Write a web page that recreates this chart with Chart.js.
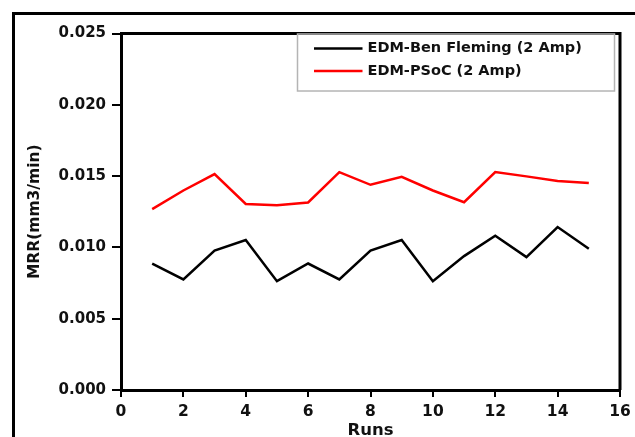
<!DOCTYPE html>
<html>
<head>
<meta charset="utf-8">
<style>
  html, body { margin: 0; padding: 0; background: #fff; }
  #wrap { position: relative; width: 635px; height: 437px; }
</style>
<script src="https://cdn.jsdelivr.net/npm/chart.js@4.4.1/dist/chart.umd.min.js"></script>
</head>
<body>
<div id="wrap"><canvas id="c" width="635" height="437"></canvas></div>
<script>
// ---- data ----
const runs = [1, 2, 3, 4, 5, 6, 7, 8, 9, 10, 11, 12, 13, 14, 15];
const mrrBenFleming = [0.00887, 0.00775, 0.00977, 0.01052, 0.00763, 0.00887, 0.00775, 0.00977, 0.01052, 0.00763, 0.00939, 0.01082, 0.00932, 0.01143, 0.00991];
const mrrPSoC = [0.01268, 0.01399, 0.01514, 0.01305, 0.01296, 0.01315, 0.01528, 0.01439, 0.01495, 0.01399, 0.01317, 0.01528, 0.01498, 0.01465, 0.01451];
const seriesLabels = ['EDM-Ben Fleming (2 Amp)', 'EDM-PSoC (2 Amp)'];
const xTicks = [0, 2, 4, 6, 8, 10, 12, 14, 16];
const yTicks = [0.000, 0.005, 0.010, 0.015, 0.020, 0.025];
const xTitle = 'Runs';
const yTitle = 'MRR(mm3/min)';

const FONT = "'DejaVu Sans', 'Liberation Sans', Arial, sans-serif";

const frameAndLegend = {
  id: 'frameAndLegend',
  beforeDraw(chart) {
    const ctx = chart.ctx;
    ctx.save();
    ctx.fillStyle = '#fff';
    ctx.fillRect(0, 0, chart.width, chart.height);
    // outer frame (top and left visible)
    ctx.strokeStyle = '#000';
    ctx.lineWidth = 3;
    ctx.beginPath();
    ctx.moveTo(13.5, chart.height + 5);
    ctx.lineTo(13.5, 13.5);
    ctx.lineTo(chart.width + 5, 13.5);
    ctx.stroke();
    ctx.restore();
  },
  afterDatasetsDraw(chart) {
    const ctx = chart.ctx;
    const a = chart.chartArea;
    ctx.save();
    // top and right axis lines of the plot box
    ctx.strokeStyle = '#000';
    ctx.lineWidth = 3;
    ctx.beginPath();
    ctx.moveTo(a.left, a.top);
    ctx.lineTo(a.right, a.top);
    ctx.lineTo(a.right, a.bottom);
    ctx.stroke();
    // legend box
    const bx = 297.5, by = a.top + 0.5, bw = 317, bh = 57;
    ctx.strokeStyle = '#b4b4b4';
    ctx.lineWidth = 1.5;
    ctx.strokeRect(bx, by, bw, bh);
    ctx.font = 'bold 14.5px ' + FONT;
    ctx.textBaseline = 'middle';
    ctx.textAlign = 'left';
    chart.data.datasets.forEach((ds, i) => {
      const y = 48.5 + i * 22.5;
      ctx.strokeStyle = ds.borderColor;
      ctx.lineWidth = 2.5;
      ctx.beginPath();
      ctx.moveTo(314, y);
      ctx.lineTo(362.5, y);
      ctx.stroke();
      ctx.fillStyle = '#111';
      ctx.fillText(ds.label, 367.5, y);
    });
    ctx.restore();
  }
};

new Chart(document.getElementById('c'), {
  type: 'line',
  data: {
    datasets: [
      {
        label: seriesLabels[0],
        data: runs.map((r, i) => ({ x: r, y: mrrBenFleming[i] })),
        borderColor: '#000000',
        borderWidth: 2.5,
        pointRadius: 0,
        tension: 0,
        fill: false
      },
      {
        label: seriesLabels[1],
        data: runs.map((r, i) => ({ x: r, y: mrrPSoC[i] })),
        borderColor: '#ff0000',
        borderWidth: 2.5,
        pointRadius: 0,
        tension: 0,
        fill: false
      }
    ]
  },
  options: {
    responsive: false,
    animation: false,
    devicePixelRatio: 1,
    layout: { padding: { left: 0, right: 15, top: 33.5, bottom: 0 } },
    plugins: {
      legend: { display: false },
      tooltip: { enabled: false }
    },
    scales: {
      x: {
        type: 'linear',
        min: xTicks[0],
        max: xTicks[xTicks.length - 1],
        afterBuildTicks(scale) { scale.ticks = xTicks.map(v => ({ value: v })); },
        afterFit(scale) { scale.height = 47; scale.paddingLeft = 0; scale.paddingRight = 0; },
        border: { display: true, color: '#000', width: 3 },
        grid: { display: true, drawOnChartArea: false, drawTicks: true, tickLength: 7, color: '#000', lineWidth: 2 },
        ticks: {
          padding: 6,
          color: '#111',
          font: { family: FONT, size: 15.5, weight: 'bold' },
          callback: v => String(v),
          maxRotation: 0,
          autoSkip: false
        },
        title: {
          display: true,
          text: xTitle,
          color: '#111',
          font: { family: FONT, size: 16.5, weight: 'bold', lineHeight: 0.8 },
          padding: { top: 0, bottom: 0 }
        }
      },
      y: {
        type: 'linear',
        min: yTicks[0],
        max: yTicks[yTicks.length - 1],
        afterBuildTicks(scale) { scale.ticks = yTicks.map(v => ({ value: v })); },
        afterFit(scale) { scale.width = 121; scale.paddingTop = 0; scale.paddingBottom = 0; },
        border: { display: true, color: '#000', width: 3 },
        grid: { display: true, drawOnChartArea: false, drawTicks: true, tickLength: 9, color: '#000', lineWidth: 2 },
        ticks: {
          padding: 6,
          color: '#111',
          font: { family: FONT, size: 15, weight: 'bold' },
          callback: v => Number(v).toFixed(3),
          autoSkip: false
        },
        title: {
          display: true,
          text: yTitle,
          color: '#111',
          font: { family: FONT, size: 15.5, weight: 'bold', lineHeight: 1 },
          padding: { top: 27, bottom: 0 }
        }
      }
    }
  },
  plugins: [frameAndLegend]
});
</script>
</body>
</html>
